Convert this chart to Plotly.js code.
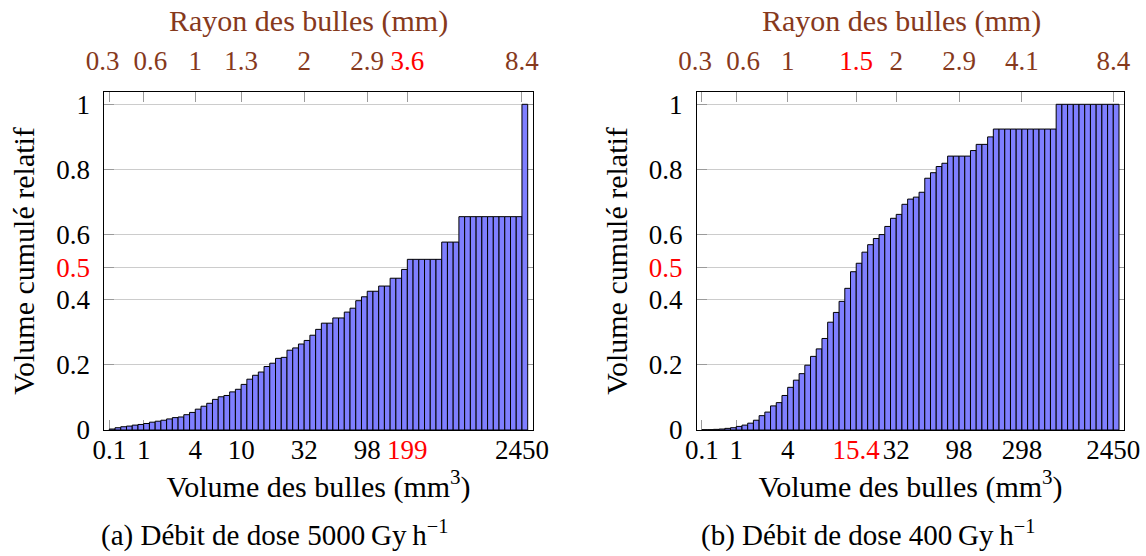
<!DOCTYPE html>
<html>
<head>
<meta charset="utf-8">
<script src="https://cdn.plot.ly/plotly-3.0.1.min.js"></script>
<style>
  html, body { margin: 0; padding: 0; background: #fff; }
  #chart { width: 1146px; height: 556px; }
</style>
</head>
<body>
<div id="chart"></div>
<script>
// ---- Data: cumulative relative volume per radius bin (73 bins each) ----
const valuesA = [
  0.003, 0.007, 0.010, 0.012, 0.015, 0.017, 0.020, 0.024, 0.027, 0.030,
  0.034, 0.038, 0.040, 0.047, 0.054, 0.064, 0.073, 0.082, 0.094, 0.102,
  0.106, 0.117, 0.125, 0.140, 0.156, 0.168, 0.178, 0.195, 0.205, 0.220,
  0.223, 0.245, 0.252, 0.264, 0.275, 0.291, 0.309, 0.328, 0.328, 0.344,
  0.344, 0.362, 0.374, 0.397, 0.409, 0.426, 0.426, 0.442, 0.442, 0.466,
  0.466, 0.493, 0.524, 0.524, 0.524, 0.524, 0.524, 0.524, 0.577, 0.577,
  0.577, 0.655, 0.655, 0.655, 0.655, 0.655, 0.655, 0.655, 0.655, 0.655,
  0.655, 0.655, 1.000
];
const valuesB = [
  0.001, 0.001, 0.002, 0.003, 0.005, 0.007, 0.011, 0.015, 0.021, 0.030,
  0.044, 0.055, 0.074, 0.084, 0.106, 0.131, 0.153, 0.173, 0.199, 0.226,
  0.249, 0.281, 0.331, 0.361, 0.395, 0.435, 0.486, 0.512, 0.546, 0.569,
  0.588, 0.600, 0.625, 0.650, 0.662, 0.693, 0.709, 0.715, 0.730, 0.773,
  0.790, 0.809, 0.819, 0.841, 0.841, 0.841, 0.841, 0.858, 0.877, 0.877,
  0.900, 0.924, 0.924, 0.924, 0.924, 0.924, 0.924, 0.924, 0.924, 0.924,
  0.924, 0.924, 1.000, 1.000, 1.000, 1.000, 1.000, 1.000, 1.000, 1.000,
  1.000, 1.000, 1.000
];

// Bin edges (index of the first bin after the edge) where ticks are labelled
const edgeBinsA = [0, 6, 15, 23, 34, 45, 52, 72];
const volumeLabelsA = ['0.1', '1', '4', '10', '32', '98', '199', '2450'];
const radiusLabelsA = ['0.3', '0.6', '1', '1.3', '2', '2.9', '3.6', '8.4'];
const highlightVolumeA = '199';
const highlightRadiusA = '3.6';

const edgeBinsB = [0, 6, 15, 27, 34, 45, 56, 72];
const volumeLabelsB = ['0.1', '1', '4', '15.4', '32', '98', '298', '2450'];
const radiusLabelsB = ['0.3', '0.6', '1', '1.5', '2', '2.9', '4.1', '8.4'];
const highlightVolumeB = '15.4';
const highlightRadiusB = '1.5';

const yTickValues = [0, 0.2, 0.4, 0.5, 0.6, 0.8, 1];
const yTickLabels = ['0', '0.2', '0.4', '0.5', '0.6', '0.8', '1'];
const highlightY = '0.5';

const xTitle = 'Volume des bulles (mm<sup>3</sup>)';
const x2Title = 'Rayon des bulles (mm)';
const yTitle = 'Volume cumulé relatif';
const captionA = '(a) Débit de dose 5000\u2009Gy\u2009h<sup>\u22121</sup>';
const captionB = '(b) Débit de dose 400\u2009Gy\u2009h<sup>\u22121</sup>';

// ---- Styles ----
const W = 1146, H = 556;
const FONT = '"Liberation Serif", serif';
const BROWN = '#86391c';
const RED = '#ff0000';
const BAR = '#7f7fff';
const TICKC = '#9a9a9a';
const GRIDC = '#cccccc';
const EN = '\u2002';

// first two top labels are nudged apart (as in the original figure)
function colorize(labels, hl, base, nudge) {
  return labels.map((t, i) => {
    let s = t === hl
      ? '<span style="color:' + RED + '">' + t + '</span>'
      : (base ? '<span style="color:' + base + '">' + t + '</span>' : t);
    if (nudge && i === 0) s = s + EN;
    if (nudge && i === 1) s = EN + s;
    return s;
  });
}
const px = v => v / W;
const py = v => (H - v) / H;

const xRange = [-1.374, 73.374];
const yRange = [0, 1.0378];

function bottomAxis(edges, labels, hl, domain) {
  return {
    domain: domain, range: xRange,
    tickmode: 'array', tickvals: edges.map(e => e - 0.5),
    ticktext: colorize(labels, hl), tickangle: 0,
    ticks: 'inside', ticklen: 10, tickwidth: 1, tickcolor: TICKC,
    showline: true, linecolor: 'black', linewidth: 1,
    showgrid: false, zeroline: false, layer: 'below traces',
    tickfont: { family: FONT, size: 27, color: 'black' },
    ticklabelstandoff: -4, fixedrange: true,
    title: { text: xTitle, font: { family: FONT, size: 30, color: 'black' }, standoff: 10 }
  };
}
function topAxis(edges, labels, hl, over) {
  return {
    overlaying: over, side: 'top', range: xRange,
    tickmode: 'array', tickvals: edges.map(e => e - 0.5),
    ticktext: colorize(labels, hl, BROWN, true), tickangle: 0,
    ticks: 'inside', ticklen: 10, tickwidth: 1, tickcolor: TICKC,
    showline: true, linecolor: 'black', linewidth: 1,
    showgrid: false, zeroline: false, layer: 'below traces',
    tickfont: { family: FONT, size: 27, color: BROWN },
    ticklabelstandoff: 10, fixedrange: true
  };
}
function leftAxis(anchor) {
  return {
    domain: [py(430), py(92)], range: yRange, anchor: anchor,
    tickmode: 'array', tickvals: yTickValues,
    ticktext: colorize(yTickLabels, highlightY),
    ticks: 'inside', ticklen: 10, tickwidth: 1, tickcolor: TICKC,
    showline: true, mirror: 'ticks', linecolor: 'black', linewidth: 1,
    showgrid: true, gridcolor: GRIDC, gridwidth: 1, zeroline: false,
    layer: 'below traces',
    tickfont: { family: FONT, size: 27, color: 'black' },
    ticklabelstandoff: 8, fixedrange: true,
    title: { text: yTitle, font: { family: FONT, size: 30, color: 'black' }, standoff: 12 }
  };
}

const idxA = valuesA.map((_, i) => i);
const idxB = valuesB.map((_, i) => i);

const barStyle = { color: BAR, line: { color: 'black', width: 1 } };
const traces = [
  { type: 'bar', x: idxA, y: valuesA, xaxis: 'x', yaxis: 'y', width: 1,
    marker: barStyle, hoverinfo: 'skip' },
  { type: 'bar', x: idxB, y: valuesB, xaxis: 'x3', yaxis: 'y2', width: 1,
    marker: barStyle, hoverinfo: 'skip' },
  // invisible companions so that the top (radius) axes get drawn
  { type: 'scatter', mode: 'none', x: idxA, y: valuesA, xaxis: 'x2', yaxis: 'y',
    hoverinfo: 'skip', showlegend: false },
  { type: 'scatter', mode: 'none', x: idxB, y: valuesB, xaxis: 'x4', yaxis: 'y2',
    hoverinfo: 'skip', showlegend: false }
];

const xa = bottomAxis(edgeBinsA, volumeLabelsA, highlightVolumeA, [px(104.3), px(532.7)]);
xa.anchor = 'y';
const xc = bottomAxis(edgeBinsB, volumeLabelsB, highlightVolumeB, [px(697), px(1124)]);
xc.anchor = 'y2';
const xb = topAxis(edgeBinsA, radiusLabelsA, highlightRadiusA, 'x'); xb.anchor = 'y';
const xd = topAxis(edgeBinsB, radiusLabelsB, highlightRadiusB, 'x3'); xd.anchor = 'y2';

function ann(text, x, y, size, color) {
  return { text: text, x: px(x), y: py(y), xref: 'paper', yref: 'paper',
    xanchor: 'center', yanchor: 'middle', showarrow: false,
    font: { family: FONT, size: size, color: color } };
}

const layout = {
  width: W, height: H,
  margin: { l: 0, r: 0, t: 0, b: 0, pad: 0 },
  paper_bgcolor: 'white', plot_bgcolor: 'white',
  showlegend: false, bargap: 0,
  font: { family: FONT, size: 27, color: 'black' },
  xaxis: xa, xaxis2: xb, xaxis3: xc, xaxis4: xd,
  yaxis: leftAxis('x'), yaxis2: leftAxis('x3'),
  annotations: [
    ann(x2Title, 308, 21, 30, BROWN),
    ann(x2Title, 901, 21, 30, BROWN),
    ann(captionA, 274, 533, 29, 'black'),
    ann(captionB, 868, 533, 29, 'black')
  ]
};

Plotly.newPlot('chart', traces, layout, { staticPlot: true, displayModeBar: false });
</script>
</body>
</html>
